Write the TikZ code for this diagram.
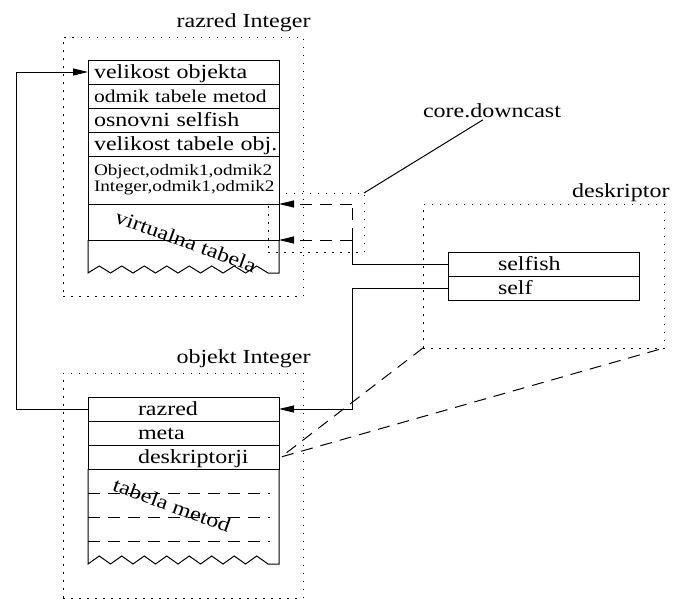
\documentclass[tikz,border=0pt]{standalone}
\usepackage{fontspec}
\setmainfont{Liberation Serif}[FakeStretch=1.2]
\usetikzlibrary{positioning,arrows.meta}

\tikzset{
  slot/.style={draw, rectangle, fill=white, outer sep=0pt, inner xsep=6pt, inner ysep=0pt,
    minimum height=24pt, text width=179pt, align=left, font=\fontsize{20}{24}\selectfont},
  oneline/.style={text height=13pt, text depth=0pt},
  indented/.style={execute at begin node={\hspace*{44pt}}},
  dotbox/.style={draw, rectangle, outer sep=0pt, dash pattern=on 1.5pt off 6.5pt},
  lbl/.style={inner sep=2pt, font=\fontsize{20}{24}\selectfont},
  longdash/.style={dash pattern=on 12pt off 8pt},
  arr/.style={-{Triangle[length=15pt,width=7pt]}}
}

\begin{document}
\begin{tikzpicture}[x=1pt,y=-1pt,line width=1pt]
\useasboundingbox (0,0) rectangle (673,600);

% dotted frames
\node[dotbox, minimum width=240pt, minimum height=259pt] (razbox) at (183,166.5) {};
\node[dotbox, minimum width=240pt, minimum height=225pt] (objbox) at (183,485.5) {};
\node[dotbox, minimum width=241pt, minimum height=144pt] (deskbox) at (543.5,276) {};
\node[dotbox, minimum width=96pt, minimum height=59pt] (castbox) at (316,222.5) {};

\node[lbl, anchor=base east] (razlbl) at (313,27) {razred Integer};
\node[lbl, anchor=base east] (objlbl) at (313,363) {objekt Integer};
\node[lbl, anchor=base east] (desklbl) at (672,197) {deskriptor};
\node[lbl, anchor=base] (cast) at (492,117) {core.downcast};

% razred Integer
\node[slot, oneline, anchor=north west] (velikost) at (88,60) {velikost objekta};
\node[slot, oneline, below=0pt of velikost, font=\fontsize{18}{20}\selectfont] (odmik) {odmik tabele metod};
\node[slot, oneline, below=0pt of odmik] (osnovni) {osnovni selfish};
\node[slot, oneline, below=0pt of osnovni] (veltab) {\mbox{velikost tabele obj.}};
\node[slot, below=0pt of veltab, minimum height=48pt, font=\fontsize{16}{16}\selectfont] (odmiki)
  {Object,odmik1,odmik2\\Integer,odmik1,odmik2};
\node[slot, fill=none, below=0pt of odmiki, minimum height=36pt] (vtab) {};
\draw (vtab.south west) -- ++(0,33)
  \foreach \i in {1,...,8} { -- ++(11.25,-7) -- ++(11.25,7) } -- ++(11,0) -- (vtab.south east);
\node[lbl, rotate=-20] (vtlbl) at (186,241) {virtualna tabela};

% objekt Integer
\node[slot, oneline, indented, anchor=north west] (orazred) at (88,397) {razred};
\node[slot, oneline, indented, below=0pt of orazred] (meta) {meta};
\node[slot, oneline, indented, below=0pt of meta] (odesk) {deskriptorji};
\draw (odesk.south west) -- ++(0,95)
  \foreach \i in {1,...,8} { -- ++(11.25,-8) -- ++(11.25,8) } -- ++(11,0) -- (odesk.south east);
\foreach \y in {24,48,72}
  \draw[longdash] (odesk.south west) ++(0,\y) -- ++(182,0);
\node[lbl, rotate=-20] (tmlbl) at (172,505) {tabela metod};

% deskriptor
\node[slot, oneline, indented, anchor=north west] (selfish) at (448,252) {selfish};
\node[slot, oneline, indented, below=0pt of selfish] (self) {self};

% connectors
\coordinate (up) at ([xshift=73pt]vtab.north east);
\coordinate (down) at ([xshift=73pt]vtab.south east);
\draw (castbox.north east) -- ([xshift=-9pt]cast.south);
\draw (selfish.west) -| (down);
\draw[longdash] (down) -- (up);
\draw[longdash, arr] (up) -- (vtab.north east);
\draw[longdash, arr] (down) -- (vtab.south east);
\draw[arr] (self.west) -| (down |- orazred.east) -- (orazred.east);
\draw[arr] (orazred.west) -- ++(-72,0) |- (velikost.west);
\draw[longdash] (deskbox.south west) -- ([xshift=2pt]odesk.east) -- (deskbox.south east);

\end{tikzpicture}
\end{document}
